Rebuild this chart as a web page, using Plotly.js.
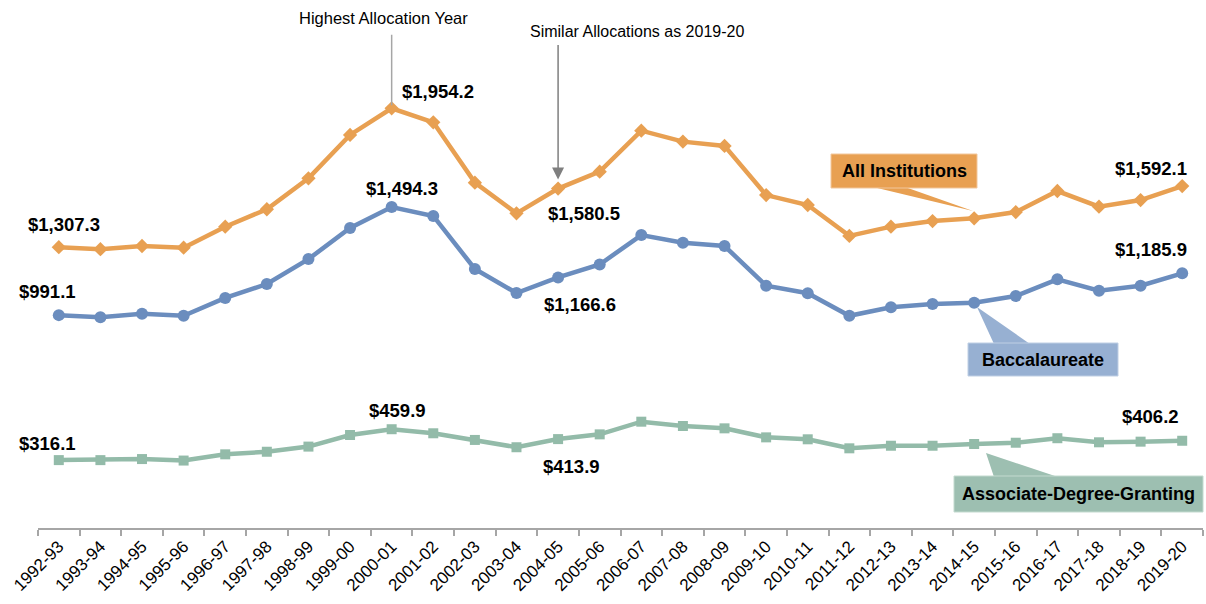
<!DOCTYPE html>
<html>
<head>
<meta charset="utf-8">
<script src="https://cdn.plot.ly/plotly-3.0.1.min.js"></script>
<style>
html,body{margin:0;padding:0;background:#fff;}
#chart{width:1206px;height:604px;}
</style>
</head>
<body>
<div id="chart"></div>
<script>
const years = ["1992-93","1993-94","1994-95","1995-96","1996-97","1997-98","1998-99","1999-00","2000-01","2001-02","2002-03","2003-04","2004-05","2005-06","2006-07","2007-08","2008-09","2009-10","2010-11","2011-12","2012-13","2013-14","2014-15","2015-16","2016-17","2017-18","2018-19","2019-20"];
const allInstitutions = [1307.3,1298,1313,1305,1403,1484,1628,1830,1954.2,1889,1608,1465,1580.5,1659,1850,1799,1779,1550,1504,1360,1403,1429,1442,1471,1569,1496,1527,1592.1];
const baccalaureate = [991.1,981,998,988,1071,1136,1252,1397,1494.3,1453,1206,1094,1166.6,1227,1364,1328,1313,1128,1093,988,1028,1043,1049,1080,1158,1105,1128,1185.9];
const associate = [316.1,316,321,314,343,355,379,433,459.9,441,410,376,413.9,436,495,475,464,422,413,371,383,383,391,397,418,399,402,406.2];
const seriesNames = ["All Institutions","Baccalaureate","Associate-Degree-Granting"];

const cOrange = "#E8A052", cBlue = "#6B8DBE", cGreen = "#93BBA9";
const FONT = "Liberation Sans, Arial, sans-serif";

// layout geometry (pixels)
const W = 1206, H = 604, ML = 38, MR = 3, MT = 8, MB = 76;
const PW = W - ML - MR, PH = H - MT - MB;
const px2x = p => (p - ML) / PW;
const px2y = p => (H - MB - p) / PH;

const traces = [
  {x: years, y: allInstitutions, name: seriesNames[0], mode: "lines+markers",
   line: {color: cOrange, width: 4.5}, marker: {symbol: "diamond", size: 11, color: cOrange}},
  {x: years, y: baccalaureate, name: seriesNames[1], mode: "lines+markers",
   line: {color: cBlue, width: 4.5}, marker: {symbol: "circle", size: 12, color: cBlue}},
  {x: years, y: associate, name: seriesNames[2], mode: "lines+markers",
   line: {color: cGreen, width: 4.5}, marker: {symbol: "square", size: 10, color: cGreen}}
];

const fmt = v => "$" + v.toLocaleString("en-US", {minimumFractionDigits: 1, maximumFractionDigits: 1});
const lblFont = {family: FONT, size: 18.5, color: "#000"};
function valLabel(series, i, dx, dy) {
  return {x: years[i], y: series[i], xref: "x", yref: "y", text: "<b>" + fmt(series[i]) + "</b>",
          showarrow: false, xshift: dx, yshift: dy, xanchor: "center", yanchor: "middle", font: lblFont};
}
const iFirst = 0, iPeak = 8, iSim = 12, iLast = years.length - 1;

function boxText(txt, cx, cy) {
  return {xref: "paper", yref: "paper", x: px2x(cx), y: px2y(cy), xanchor: "center", yanchor: "middle",
          text: "<b>" + txt + "</b>", showarrow: false, font: {family: FONT, size: 18, color: "#000"}};
}

const annotations = [
  valLabel(allInstitutions, iFirst, 5, 23),
  valLabel(baccalaureate, iFirst, -11, 24),
  valLabel(associate, iFirst, -11, 17),
  valLabel(allInstitutions, iPeak, 46, 17),
  valLabel(baccalaureate, iPeak, 10, 19),
  valLabel(associate, iPeak, 6, 19),
  valLabel(allInstitutions, iSim, 26, -25),
  valLabel(baccalaureate, iSim, 22, -27),
  valLabel(associate, iSim, 13, -27),
  valLabel(allInstitutions, iLast, -31, 18),
  valLabel(baccalaureate, iLast, -31, 24),
  valLabel(associate, iLast, -32, 24),
  // notes
  {x: years[iPeak], y: allInstitutions[iPeak], text: "Highest Allocation Year", showarrow: false,
   xanchor: "center", yanchor: "middle", xshift: -8, yshift: 90, font: {family: FONT, size: 16.5, color: "#000"}},
  {x: years[iPeak], y: allInstitutions[iPeak], text: "", showarrow: true, ax: 0, ay: -75,
   arrowhead: 0, arrowwidth: 1.5, arrowcolor: "#A6A6A6", standoff: 3},
  {x: years[iSim], y: allInstitutions[iSim], text: "Similar Allocations as 2019-20", showarrow: false,
   xanchor: "center", yanchor: "middle", xshift: 79, yshift: 157, font: {family: FONT, size: 16, color: "#000"}},
  {x: years[iSim], y: allInstitutions[iSim], text: "", showarrow: true, ax: 0, ay: -145,
   arrowhead: 2, arrowsize: 1.6, arrowwidth: 1.5, arrowcolor: "#7F7F7F", standoff: 9},
  // callout texts
  boxText(seriesNames[0], 904, 171),
  boxText(seriesNames[1], 1043, 360),
  boxText(seriesNames[2], 1078, 494)
];

function rect(x0, y0, x1, y1, fill, line) {
  return {type: "rect", xref: "paper", yref: "paper", x0: px2x(x0), x1: px2x(x1), y0: px2y(y1), y1: px2y(y0),
          fillcolor: fill, line: {color: line, width: 1}, layer: "above"};
}
function tri(pts, fill) {
  const d = pts.map((p, k) => (k ? "L" : "M") + px2x(p[0]) + "," + px2y(p[1])).join(" ") + " Z";
  return {type: "path", xref: "paper", yref: "paper", path: d, fillcolor: fill, line: {width: 0}, layer: "above"};
}
const shapes = [
  tri([[873, 187], [905, 187], [973, 211]], cOrange),
  rect(831, 154, 977, 188, cOrange, "#F2C79C"),
  tri([[994, 344], [1030, 344], [977, 307]], "#97B0D2"),
  rect(968, 343, 1118, 376, "#97B0D2", "#BFCFE4"),
  tri([[994, 477], [1058, 477], [986, 453]], "#9DBFB1"),
  rect(954, 476, 1203, 512, "#9DBFB1", "#C3DACF")
];

const layout = {
  width: W, height: H,
  margin: {l: ML, r: MR, t: MT, b: MB, pad: 0},
  paper_bgcolor: "#fff", plot_bgcolor: "#fff",
  showlegend: false,
  xaxis: {type: "category", range: [-0.5, years.length - 0.5], showline: true, linecolor: "#A6A6A6", linewidth: 2,
          ticks: "outside", tickson: "boundaries", ticklen: 6, tickwidth: 2, tickcolor: "#A6A6A6",
          tickangle: -45, showgrid: false, zeroline: false,
          tickfont: {family: FONT, size: 17, color: "#000"}},
  yaxis: {visible: false, range: [0, PH * 4.656], showgrid: false, zeroline: false},
  annotations: annotations,
  shapes: shapes
};
Plotly.newPlot("chart", traces, layout, {displayModeBar: false, staticPlot: true});
</script>
</body>
</html>
